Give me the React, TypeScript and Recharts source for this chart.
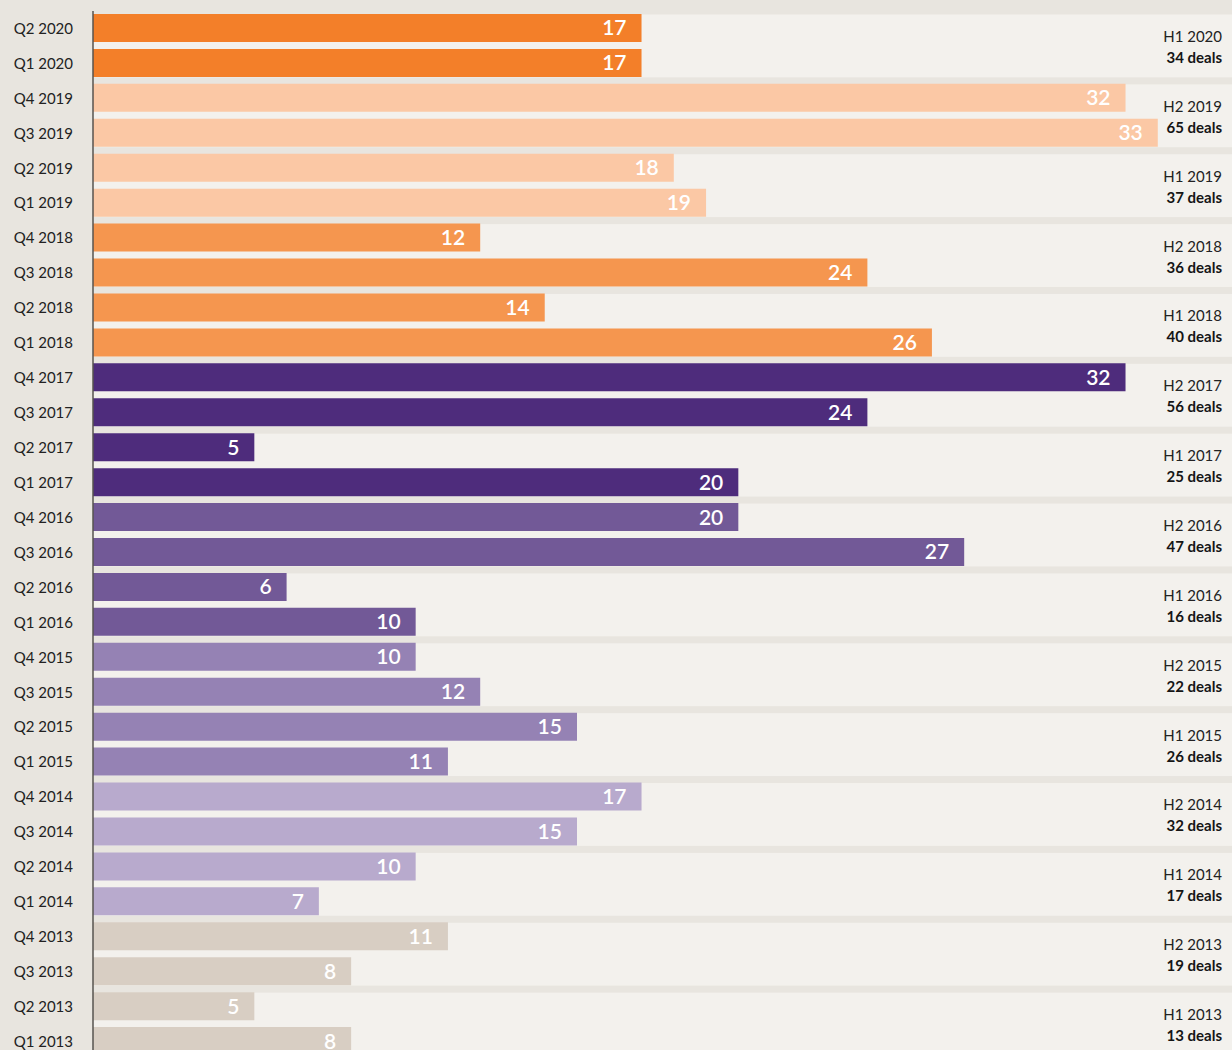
import React from 'react'
import { BarChart, Bar, XAxis, YAxis, Cell, LabelList, ReferenceArea } from 'recharts'

// quarters, newest first (top of chart)
const quarters = [
  'Q2 2020', 'Q1 2020',
  'Q4 2019', 'Q3 2019', 'Q2 2019', 'Q1 2019',
  'Q4 2018', 'Q3 2018', 'Q2 2018', 'Q1 2018',
  'Q4 2017', 'Q3 2017', 'Q2 2017', 'Q1 2017',
  'Q4 2016', 'Q3 2016', 'Q2 2016', 'Q1 2016',
  'Q4 2015', 'Q3 2015', 'Q2 2015', 'Q1 2015',
  'Q4 2014', 'Q3 2014', 'Q2 2014', 'Q1 2014',
  'Q4 2013', 'Q3 2013', 'Q2 2013', 'Q1 2013',
]

const dealsPerQuarter = [
  17, 17,
  32, 33, 18, 19,
  12, 24, 14, 26,
  32, 24, 5, 20,
  20, 27, 6, 10,
  10, 12, 15, 11,
  17, 15, 10, 7,
  11, 8, 5, 8,
]

const halfYears = [
  'H1 2020', 'H2 2019', 'H1 2019', 'H2 2018', 'H1 2018',
  'H2 2017', 'H1 2017', 'H2 2016', 'H1 2016', 'H2 2015',
  'H1 2015', 'H2 2014', 'H1 2014', 'H2 2013', 'H1 2013',
]

const dealsPerHalf = [34, 65, 37, 36, 40, 56, 25, 47, 16, 22, 26, 32, 17, 19, 13]

const yearColors: Record<string, string> = {
  '2020': '#f37f29',
  '2019': '#fbc8a5',
  '2018': '#f5964f',
  '2017': '#4e2c7c',
  '2016': '#725997',
  '2015': '#9582b4',
  '2014': '#b8aacd',
  '2013': '#d8cec3',
}

const FONT = 'Lato, "Noto Sans", sans-serif'
const WIDTH = 1232
const BAND = '#f3f1ed'

const data = quarters.map((q, i) => ({ quarter: q, deals: dealsPerQuarter[i] }))

function halfBand(label: string, total: number) {
  return (p: any) => {
    const top = p.y + 3.5
    const h = p.height - 7
    const mid = top + h / 2
    return (
      <g>
        <rect x={p.x} y={top} width={WIDTH - p.x} height={h} fill={BAND} />
        <text x={1222} y={mid - 10} textAnchor="end" dominantBaseline="central"
          fontFamily={FONT} fontSize={15} fill="#222">{label}</text>
        <text x={1222} y={mid + 11} textAnchor="end" dominantBaseline="central"
          fontFamily={FONT} fontSize={15} fontWeight={700} fill="#151515">{total} deals</text>
      </g>
    )
  }
}

export default function App() {
  const last = halfYears.length - 1
  return (
    <div style={{ position: 'absolute', left: 0, top: 0, width: WIDTH, height: 1050, overflow: 'hidden', background: '#e8e5df' }}>
      <BarChart
        width={WIDTH}
        height={1059}
        data={data}
        layout="vertical"
        margin={{ top: 11, right: 0, bottom: 0, left: 0 }}
      >
        <XAxis type="number" domain={[0, 35.3]} hide />
        <YAxis
          type="category"
          dataKey="quarter"
          width={93}
          tickLine={false}
          tickSize={0}
          tickMargin={20}
          axisLine={{ stroke: '#57534f', strokeWidth: 1.5 }}
          tick={{ fontFamily: FONT, fontSize: 15, fill: '#222' }}
          interval={0}
        />
        {halfYears.map((h, i) => (
          <ReferenceArea
            key={h}
            y1={quarters[i * 2]}
            y2={i === last ? undefined : quarters[i * 2 + 1]}
            shape={halfBand(h, dealsPerHalf[i])}
          />
        ))}
        <Bar dataKey="deals" barSize={28} isAnimationActive={false}>
          {data.map((d) => (
            <Cell key={d.quarter} fill={yearColors[d.quarter.slice(3)]} />
          ))}
          <LabelList
            dataKey="deals"
            position="insideRight"
            offset={15}
            fill="#fff"
            fontSize={21}
            fontWeight={600}
            fontFamily={FONT}
          />
        </Bar>
      </BarChart>
    </div>
  )
}
